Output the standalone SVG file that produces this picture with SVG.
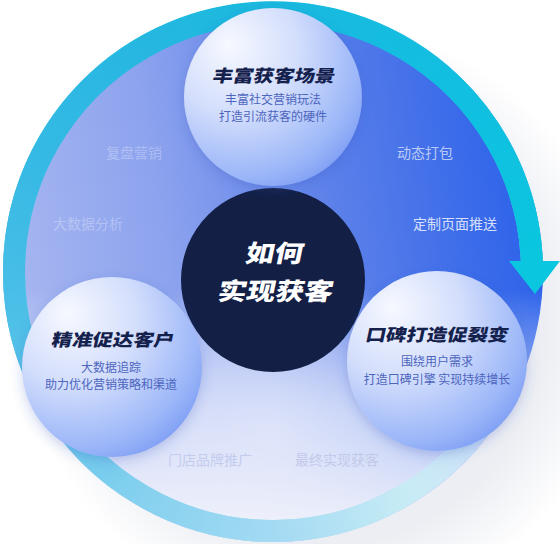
<svg xmlns="http://www.w3.org/2000/svg" width="560" height="544" viewBox="0 0 560 544">
  <defs>
    <style>
      text { font-family: "Noto Sans CJK SC", "Noto Sans", sans-serif; }
      .title { font-size: 17px; font-weight: 900; fill: #14214d; text-anchor: middle; }
      .sub { font-size: 12px; font-weight: 400; fill: #4d65bd; text-anchor: middle; }
      .big { font-size: 24px; font-weight: 900; fill: #ffffff; text-anchor: middle; }
      .faint { font-size: 14px; font-weight: 400; }
      .ring { fill: none; stroke-width: 22; stroke-linecap: butt; }
      .ball { filter: url(#shadow); }
    </style>
    <radialGradient id="halo" cx="320" cy="320" r="300" gradientUnits="userSpaceOnUse">
      <stop offset="0.75" stop-color="#eceef3"/>
      <stop offset="1" stop-color="#ffffff"/>
    </radialGradient>
    <linearGradient id="diskBase" x1="530" y1="250" x2="20" y2="330" gradientUnits="userSpaceOnUse">
      <stop offset="0" stop-color="#2e63ea"/>
      <stop offset="0.35" stop-color="#5a7fe9"/>
      <stop offset="0.7" stop-color="#8da3ee"/>
      <stop offset="1" stop-color="#a6b6f0"/>
    </linearGradient>
    <linearGradient id="diskFade" x1="0" y1="290" x2="0" y2="530" gradientUnits="userSpaceOnUse">
      <stop offset="0" stop-color="#ffffff" stop-opacity="0"/>
      <stop offset="0.5" stop-color="#eef1fc" stop-opacity="0.65"/>
      <stop offset="1" stop-color="#f3f4fb" stop-opacity="0.97"/>
    </linearGradient>
    <radialGradient id="diskGlow" cx="273" cy="430" r="170" gradientUnits="userSpaceOnUse">
      <stop offset="0" stop-color="#ffffff" stop-opacity="0.45"/>
      <stop offset="1" stop-color="#ffffff" stop-opacity="0"/>
    </radialGradient>
    <radialGradient id="ballFill" cx="0.32" cy="0.28" r="0.8" fx="0.25" fy="0.2">
      <stop offset="0" stop-color="#f7f9ff"/>
      <stop offset="0.45" stop-color="#d3defc"/>
      <stop offset="0.85" stop-color="#9bb6f8"/>
      <stop offset="1" stop-color="#7f9ff4"/>
    </radialGradient>
    <filter id="shadow" x="-30%" y="-30%" width="160%" height="160%">
      <feDropShadow dx="0" dy="4" stdDeviation="6" flood-color="#2f4fb8" flood-opacity="0.25"/>
    </filter>
    <linearGradient id="ringUnder" x1="0" y1="530" x2="0" y2="10" gradientUnits="userSpaceOnUse">
      <stop offset="0" stop-color="#b0dff3"/>
      <stop offset="1" stop-color="#15bbdf"/>
    </linearGradient>
    <linearGradient id="r1" x1="507.7" y1="381.5" x2="402.5" y2="496.3" gradientUnits="userSpaceOnUse"><stop offset="0" stop-color="#cdeef6" stop-opacity="0"/><stop offset="1" stop-color="#c6ebf5"/></linearGradient>
    <linearGradient id="r2" x1="402.5" y1="496.3" x2="273" y2="531" gradientUnits="userSpaceOnUse"><stop offset="0" stop-color="#c6ebf5"/><stop offset="1" stop-color="#a3daf3"/></linearGradient>
    <linearGradient id="r3" x1="273" y1="531" x2="143.5" y2="496.3" gradientUnits="userSpaceOnUse"><stop offset="0" stop-color="#a3daf3"/><stop offset="1" stop-color="#86d1ef"/></linearGradient>
    <linearGradient id="r4" x1="143.5" y1="496.3" x2="48.7" y2="401.5" gradientUnits="userSpaceOnUse"><stop offset="0" stop-color="#86d1ef"/><stop offset="1" stop-color="#5fc5ea"/></linearGradient>
    <linearGradient id="r5" x1="48.7" y1="401.5" x2="14" y2="272" gradientUnits="userSpaceOnUse"><stop offset="0" stop-color="#5fc5ea"/><stop offset="1" stop-color="#45bde6"/></linearGradient>
    <linearGradient id="r6" x1="14" y1="272" x2="48.7" y2="142.5" gradientUnits="userSpaceOnUse"><stop offset="0" stop-color="#45bde6"/><stop offset="1" stop-color="#33b9e4"/></linearGradient>
    <linearGradient id="r7" x1="48.7" y1="142.5" x2="143.5" y2="47.7" gradientUnits="userSpaceOnUse"><stop offset="0" stop-color="#33b9e4"/><stop offset="1" stop-color="#26b7e1"/></linearGradient>
    <linearGradient id="r8" x1="143.5" y1="47.7" x2="273" y2="13" gradientUnits="userSpaceOnUse"><stop offset="0" stop-color="#26b7e1"/><stop offset="1" stop-color="#1ab9de"/></linearGradient>
    <linearGradient id="r9" x1="273" y1="13" x2="402.5" y2="47.7" gradientUnits="userSpaceOnUse"><stop offset="0" stop-color="#1ab9de"/><stop offset="1" stop-color="#14bde0"/></linearGradient>
    <linearGradient id="r10" x1="402.5" y1="47.7" x2="497.3" y2="142.5" gradientUnits="userSpaceOnUse"><stop offset="0" stop-color="#14bde0"/><stop offset="1" stop-color="#0fc1e0"/></linearGradient>
    <linearGradient id="r11" x1="497.3" y1="142.5" x2="531.8" y2="261.1" gradientUnits="userSpaceOnUse"><stop offset="0" stop-color="#0fc1e0"/><stop offset="1" stop-color="#0ac6df"/></linearGradient>
  </defs>

  <rect x="0" y="0" width="560" height="544" fill="#ffffff"/>
  <circle cx="320" cy="320" r="300" fill="url(#halo)"/>

  <g id="disk">
    <circle cx="273" cy="272" r="270" fill="url(#diskBase)"/>
    <circle cx="273" cy="272" r="270" fill="url(#diskGlow)"/>
    <circle cx="273" cy="272" r="270" fill="url(#diskFade)"/>
  </g>

  <g id="connectors">
    <path class="ring" stroke="url(#ringUnder)" d="M402.5,496.3 A259,259 0 0 1 14,272 A259,259 0 0 1 531.8,261.1"/>
    <path class="ring" stroke="url(#r1)" d="M507.7,381.5 A259,259 0 0 1 402.5,496.3"/>
    <path class="ring" stroke="url(#r2)" d="M402.5,496.3 A259,259 0 0 1 273,531"/>
    <path class="ring" stroke="url(#r3)" d="M273,531 A259,259 0 0 1 143.5,496.3"/>
    <path class="ring" stroke="url(#r4)" d="M143.5,496.3 A259,259 0 0 1 48.7,401.5"/>
    <path class="ring" stroke="url(#r5)" d="M48.7,401.5 A259,259 0 0 1 14,272"/>
    <path class="ring" stroke="url(#r6)" d="M14,272 A259,259 0 0 1 48.7,142.5"/>
    <path class="ring" stroke="url(#r7)" d="M48.7,142.5 A259,259 0 0 1 143.5,47.7"/>
    <path class="ring" stroke="url(#r8)" d="M143.5,47.7 A259,259 0 0 1 273,13"/>
    <path class="ring" stroke="url(#r9)" d="M273,13 A259,259 0 0 1 402.5,47.7"/>
    <path class="ring" stroke="url(#r10)" d="M402.5,47.7 A259,259 0 0 1 497.3,142.5"/>
    <path class="ring" stroke="url(#r11)" d="M497.3,142.5 A259,259 0 0 1 531.8,261.1"/>
    <polygon points="509,261 560,261 535,294" fill="#0ac6df"/>
  </g>

  <g id="labels">
    <text class="faint" x="106" y="158" fill="#ffffff" fill-opacity="0.3">复盘营销</text>
    <text class="faint" x="53" y="229" fill="#ffffff" fill-opacity="0.3">大数据分析</text>
    <text class="faint" x="397" y="158" fill="#ffffff" fill-opacity="0.65">动态打包</text>
    <text class="faint" x="413" y="229" fill="#ffffff" fill-opacity="0.8">定制页面推送</text>
    <text class="faint" x="168" y="465" fill="#c3cbef">门店品牌推广</text>
    <text class="faint" x="295" y="465" fill="#c3c9ea">最终实现获客</text>
  </g>

  <g id="node-center">
    <circle cx="273" cy="280" r="92" fill="#131f44"/>
    <text class="big" transform="translate(273,262) scale(1.2,1) skewX(-10)">如何</text>
    <text class="big" transform="translate(274,300) scale(1.2,1) skewX(-10)">实现获客</text>
  </g>

  <g id="node-top">
    <circle class="ball" cx="273" cy="97" r="89" fill="url(#ballFill)"/>
    <text class="title" transform="translate(273,82) scale(1.2,1) skewX(-10)">丰富获客场景</text>
    <text class="sub" x="273" y="104">丰富社交营销玩法</text>
    <text class="sub" x="273" y="121">打造引流获客的硬件</text>
  </g>

  <g id="node-left">
    <circle class="ball" cx="112" cy="367" r="90" fill="url(#ballFill)"/>
    <text class="title" transform="translate(112,346) scale(1.2,1) skewX(-10)">精准促达客户</text>
    <text class="sub" x="111" y="372">大数据追踪</text>
    <text class="sub" x="111" y="389">助力优化营销策略和渠道</text>
  </g>

  <g id="node-right">
    <circle class="ball" cx="437" cy="361" r="90" fill="url(#ballFill)"/>
    <text class="title" transform="translate(436,341) scale(1.2,1) skewX(-10)">口碑打造促裂变</text>
    <text class="sub" x="437" y="366">围绕用户需求</text>
    <text class="sub" x="437" y="384">打造口碑引擎 实现持续增长</text>
  </g>
</svg>
